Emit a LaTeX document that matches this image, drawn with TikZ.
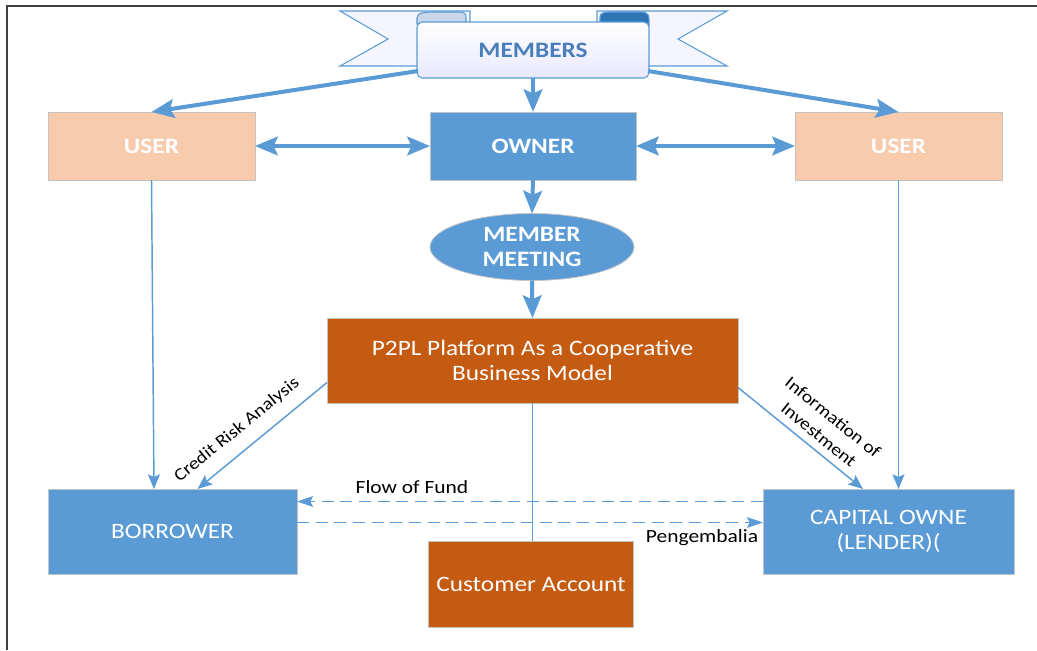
\documentclass[tikz,border=0pt]{standalone}
\usepackage{fontspec}
\setmainfont{Carlito}[FakeStretch=1.15]
\usetikzlibrary{arrows.meta,shapes.geometric,calc}
\definecolor{ablue}{HTML}{5B9BD5}
\definecolor{bblue}{HTML}{5B9BD5}
\definecolor{peach}{HTML}{F8CBAD}
\definecolor{rust}{HTML}{C55A11}
\definecolor{edgegray}{HTML}{C4C4C4}
\definecolor{memtxt}{HTML}{4A7EBB}
\definecolor{curlL}{HTML}{C9D6EA}
\definecolor{curlR}{HTML}{2E75B6}
\definecolor{framegray}{HTML}{404040}
\begin{document}
\begin{tikzpicture}[x=0.75pt,y=-0.75pt,
  boxbase/.style={draw=edgegray,line width=0.6pt,inner sep=0pt,outer sep=0pt,text=white,align=center,font=\fontsize{16.5}{19}\selectfont},
  bluebox/.style={boxbase,fill=bblue},
  peachbox/.style={boxbase,fill=peach,font=\fontsize{16.5}{19}\selectfont\bfseries},
  rustbox/.style={boxbase,fill=rust},
  thickarr/.style={draw=ablue,line width=3pt,-{Stealth[length=17pt,width=14pt,inset=3pt]}},
  dblarr/.style={draw=ablue,line width=3pt,{Stealth[length=17pt,width=14pt,inset=3pt]}-{Stealth[length=17pt,width=14pt,inset=3pt]}},
  thinarr/.style={draw=ablue,line width=1.1pt,-{Stealth[length=11pt,width=9pt,inset=2pt]}},
  dasharr/.style={draw=ablue,line width=1.1pt,dash pattern=on 9pt off 5pt,-{Stealth[length=12pt,width=8pt,inset=2pt]}},
  lbl/.style={text=black,inner sep=0pt,font=\fontsize{14}{16}\selectfont},
  rlbl/.style={text=black,inner sep=0pt,align=center,font=\fontsize{13}{17}\selectfont}]
\useasboundingbox (0,0) rectangle (1037,650);
% frame
\draw[framegray,line width=1.6pt] (7,650) -- (7,6) -- (1037,6);
% banner tails
\draw[ablue,line width=0.8pt,fill=blue!4] (340,11) -- (470,11) -- (470,66) -- (340,66) -- (388,39) -- cycle;
\draw[ablue,line width=0.8pt,fill=blue!4] (727,11) -- (597,11) -- (597,66) -- (727,66) -- (678,39) -- cycle;
% curls
\draw[ablue,line width=0.8pt,fill=curlL] (417,24) -- (417,18) .. controls (417,12) and (425,12) .. (440,12) -- (458,12) .. controls (466,12) and (466,14) .. (466,18) -- (466,26) -- cycle;
\draw[ablue,line width=0.8pt,fill=curlR] (600,24) -- (600,17) .. controls (600,12) and (606,12) .. (615,12) -- (640,12) .. controls (649,12) and (649,16) .. (649,20) -- (649,26) -- cycle;
% scroll body
\draw[ablue,line width=0.8pt,top color=white,bottom color=blue!9,rounded corners=4] (417,22) -- (417,78) -- (649,78) -- (649,22) -- cycle;
\node[text=memtxt,font=\fontsize{16.5}{19}\selectfont\bfseries] (mem) at (533,50) {MEMBERS};
\coordinate (bL) at (418,71);
\coordinate (bR) at (648,71);
\coordinate (bC) at (533,78);
% boxes
\node[peachbox,minimum width=155.25pt,minimum height=51pt] (uL) at (151.5,146) {USER};
\node[bluebox,font=\fontsize{16.5}{19}\selectfont\bfseries,minimum width=154.5pt,minimum height=51pt] (own) at (533,146) {OWNER};
\node[peachbox,minimum width=155.25pt,minimum height=51pt] (uR) at (898.5,146) {USER};
\node[bluebox,ellipse,font=\fontsize{16.5}{19}\selectfont\bfseries,minimum width=153pt,minimum height=50.25pt] (mm) at (532,247) {MEMBER\\MEETING};
\node[rustbox,minimum width=308.25pt,minimum height=63.75pt] (p2pl) at (532.5,360.5) {P2PL Platform As a Cooperative\\Business Model};
\node[bluebox,minimum width=186.75pt,minimum height=63.75pt] (bor) at (172.5,531.5) {BORROWER};
\node[bluebox,minimum width=188.25pt,minimum height=63.75pt] (cap) at (888.5,531.5) {CAPITAL OWNE\\(LENDER)(};
\node[rustbox,minimum width=153.75pt,minimum height=64.5pt] (ca) at (531,584) {Customer Account};
% thick arrows
\draw[thickarr] (bL) -- (uL.north);
\draw[thickarr] (bR) -- (uR.north);
\draw[thickarr] (bC) -- (own.north);
\draw[dblarr] (uL.east) -- (own.west);
\draw[dblarr] (own.east) -- (uR.west);
\draw[thickarr] (own.south) -- (mm.north);
\draw[thickarr] (mm.south) -- (p2pl.north);
% thin arrows
\draw[thinarr] (uL.south) -- ($(bor.north west)+(106,0)$);
\draw[thinarr] (uR.south) -- (uR.south |- cap.north);
\draw[thinarr] ($(p2pl.west)+(0,22)$) -- ($(bor.north)+(25,0)$);
\draw[thinarr] ($(p2pl.east)+(0,27)$) -- ($(cap.north)+(-25.5,0)$);
\draw[ablue,line width=1.1pt] (p2pl.south) -- (p2pl.south |- ca.north);
% dashed
\draw[dasharr] ($(cap.west)+(0,-30)$) -- ($(bor.east)+(0,-30)$);
\draw[dasharr] ($(bor.east)+(0,-9)$) -- ($(cap.west)+(0,-9)$);
% labels
\node[lbl] (lf) at (412,487) {Flow of Fund};
\node[lbl] (lp) at (702,538) {Pengembalia};
\node[rlbl,rotate=39] (lc) at (237,430) {Credit Risk Analysis};
\node[rlbl,rotate=-39] (li) at (826,426) {Information of\\Investment};
\end{tikzpicture}
\end{document}
